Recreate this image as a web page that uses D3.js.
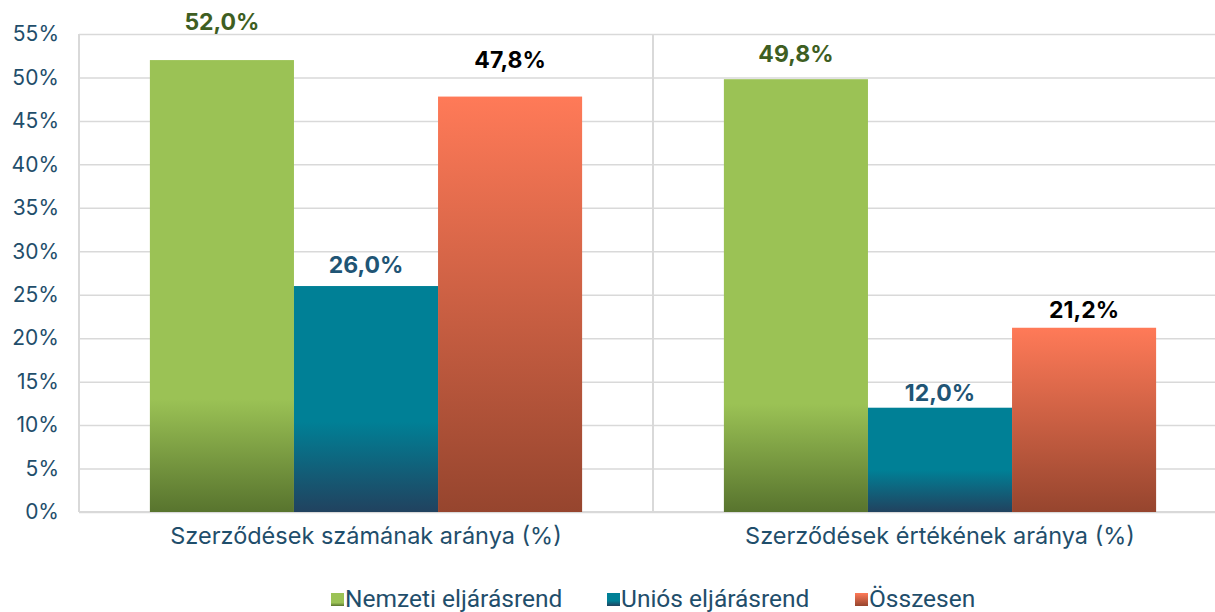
<!DOCTYPE html>
<html>
<head>
<meta charset="utf-8">
<script src="https://cdn.jsdelivr.net/npm/d3@7"></script>
<style>
  body { margin: 0; background: #fff; }
  svg { display: block; }
</style>
</head>
<body>
<div id="chart"></div>
<script>
// data
var categories = ['Szerződések számának aránya (%)', 'Szerződések értékének aránya (%)'];
var seriesNames = ['Nemzeti eljárásrend', 'Uniós eljárásrend', 'Összesen'];
var nemzeti = [52.0, 49.8];
var unios = [26.0, 12.0];
var osszesen = [47.8, 21.2];
var yTicks = [0, 5, 10, 15, 20, 25, 30, 35, 40, 45, 50, 55];

var chart_width = 1215;
var chart_height = 612;
var plotLeft = 79, plotTop = 34, plotBottom = 512;
var groupWidth = 574;

// label lift above each bar (series x category), as placed in the original
var labelLift = [[30, 17], [13, 7], [29, 10]];

var colors = [
    { top: '#9BC255', bottom: '#58742E', solid: 0.75, label: '#3E5E22' },
    { top: '#008096', bottom: '#21425F', solid: 0.6, label: '#1F5575' },
    { top: '#FF7A58', bottom: '#96452E', solid: 0, label: '#000000' }
];

var values = [nemzeti, unios, osszesen];

var svg = d3.select('#chart')
    .append('svg')
    .attr('width', chart_width)
    .attr('height', chart_height);

var defs = svg.append('defs');
colors.forEach(function(c, i) {
    var g = defs.append('linearGradient')
        .attr('id', 'grad' + i)
        .attr('x1', 0).attr('y1', 0).attr('x2', 0).attr('y2', 1);
    g.append('stop').attr('offset', 0).attr('stop-color', c.top);
    if (c.solid > 0) g.append('stop').attr('offset', c.solid).attr('stop-color', c.top);
    g.append('stop').attr('offset', 1).attr('stop-color', c.bottom);
});

// scales
var y_scale = d3.scaleLinear().domain([0, 55]).range([plotBottom, plotTop]);

var x0 = d3.scaleBand()
    .domain(categories)
    .range([plotLeft, plotLeft + 2 * groupWidth])
    .paddingInner(0.247)
    .paddingOuter(0.1235);

var x1 = d3.scaleBand()
    .domain(seriesNames)
    .range([0, x0.bandwidth()]);

// grid
var y_axis = d3.axisLeft(y_scale)
    .tickValues(yTicks)
    .tickSize(-(chart_width - plotLeft))
    .tickPadding(20)
    .tickFormat(d => d + '%');

var yg = svg.append('g')
    .attr('transform', `translate(${plotLeft}, 0)`)
    .call(y_axis);
yg.select('.domain').remove();
yg.selectAll('line').attr('stroke', '#D9D9D9').attr('stroke-width', 1.5);
yg.selectAll('text')
    .attr('fill', '#1F4E6B')
    .style('font-family', 'Inter, sans-serif')
    .style('font-size', '21px');

// axis lines and separator
svg.append('line')
    .attr('x1', plotLeft).attr('x2', plotLeft)
    .attr('y1', plotTop).attr('y2', plotBottom)
    .attr('stroke', '#D9D9D9').attr('stroke-width', 2);

svg.append('line')
    .attr('x1', plotLeft + groupWidth).attr('x2', plotLeft + groupWidth)
    .attr('y1', plotTop).attr('y2', plotBottom)
    .attr('stroke', '#D9D9D9').attr('stroke-width', 2);

svg.append('line')
    .attr('x1', plotLeft).attr('x2', chart_width)
    .attr('y1', plotBottom).attr('y2', plotBottom)
    .attr('stroke', '#D9D9D9').attr('stroke-width', 2);

// bars
seriesNames.forEach(function(s, si) {
    svg.append('g').selectAll('rect')
        .data(categories)
        .enter()
        .append('rect')
        .attr('x', (d) => x0(d) + x1(s))
        .attr('y', (d, ci) => y_scale(values[si][ci]))
        .attr('width', x1.bandwidth())
        .attr('height', (d, ci) => plotBottom - y_scale(values[si][ci]))
        .attr('fill', 'url(#grad' + si + ')');

    svg.append('g').selectAll('text')
        .data(categories)
        .enter()
        .append('text')
        .attr('x', (d) => x0(d) + x1(s) + x1.bandwidth() / 2)
        .attr('y', (d, ci) => y_scale(values[si][ci]) - labelLift[si][ci])
        .attr('text-anchor', 'middle')
        .attr('fill', colors[si].label)
        .style('font-family', 'Inter, sans-serif')
        .style('font-weight', 'bold')
        .style('font-size', '23px')
        .text((d, ci) => values[si][ci].toFixed(1).replace('.', ',') + '%');
});

// category labels
svg.append('g').selectAll('text')
    .data(categories)
    .enter()
    .append('text')
    .attr('x', d => x0(d) + x0.bandwidth() / 2)
    .attr('y', 544)
    .attr('text-anchor', 'middle')
    .attr('fill', '#1F4E6B')
    .style('font-family', 'Inter, sans-serif')
    .style('font-size', '23.5px')
    .text(d => d);

// legend
var legendX = [331, 607, 855];
var legend = svg.append('g').selectAll('g')
    .data(seriesNames)
    .enter()
    .append('g')
    .attr('transform', (d, i) => `translate(${legendX[i]}, 593)`);

legend.append('rect')
    .attr('width', 13).attr('height', 13)
    .attr('fill', (d, i) => 'url(#grad' + i + ')');

legend.append('text')
    .attr('x', 14)
    .attr('y', 14)
    .attr('fill', '#1F4E6B')
    .style('font-family', 'Roboto, sans-serif')
    .style('font-size', '24.5px')
    .text(d => d);
</script>
</body>
</html>
